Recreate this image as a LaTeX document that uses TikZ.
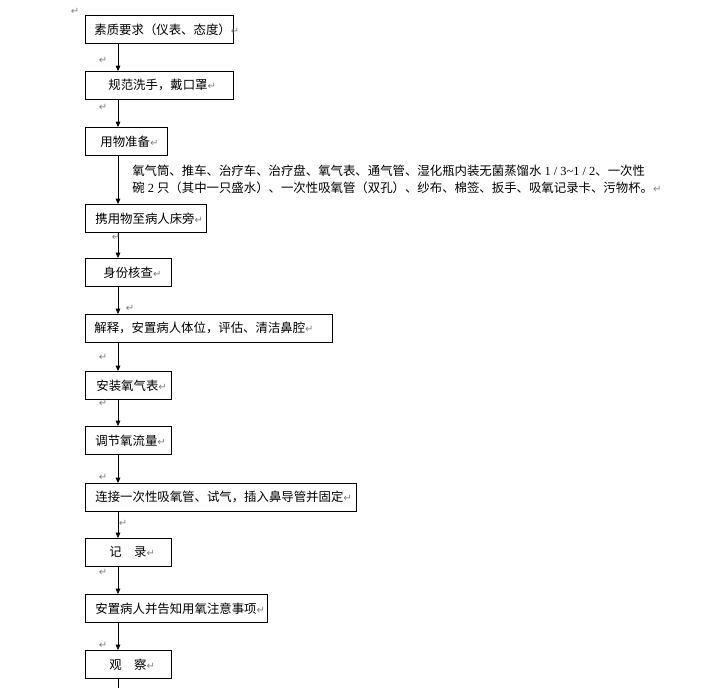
\documentclass[tikz,border=0pt]{standalone}
\usepackage{fontspec}
\setmainfont{Liberation Serif}
\newfontfamily\cjk{Noto Sans CJK SC}
\newfontfamily\symfont{DejaVu Sans}
\usetikzlibrary{arrows.meta}
\newcommand{\ret}{{\symfont\fontsize{7.5pt}{7.5pt}\selectfont\textcolor{gray}{↵}}}

\begin{document}
\begin{tikzpicture}[x=0.75pt,y=-0.75pt,
    stepbox/.style={draw, line width=0.6pt, anchor=north west, minimum height=21pt,
        inner xsep=0pt, inner ysep=0pt, align=left, font=\cjk\fontsize{9.3pt}{11pt}\selectfont},
    desc/.style={anchor=west, inner sep=0pt, font=\fontsize{9.3pt}{11pt}\selectfont},
    flow/.style={line width=0.6pt, -{Triangle[width=3.5pt,length=4pt]}},
    retmark/.style={inner sep=0pt}]
    \useasboundingbox (0,0) rectangle (709,688);

    % Steps
    \node[stepbox, text width=111pt] (quality) at (85,15) {\hspace*{6.75pt}素质要求（仪表、态度）\ret};
    \node[stepbox, text width=111pt] (wash) at (85,71) {\hspace*{17.25pt}规范洗手，戴口罩\ret};
    \node[stepbox, text width=61.5pt] (prepare) at (85,127) {\hspace*{11.25pt}用物准备\ret};
    \node[stepbox, text width=90.75pt] (bedside) at (85,204) {\hspace*{7.5pt}携用物至病人床旁\ret};
    \node[stepbox, text width=64.5pt] (identity) at (85,258) {\hspace*{13.5pt}身份核查\ret};
    \node[stepbox, text width=185.25pt] (explain) at (85,314) {\hspace*{6.75pt}解释，安置病人体位，评估、清洁鼻腔\ret};
    \node[stepbox, text width=64.5pt] (meter) at (85,371) {\hspace*{8.25pt}安装氧气表\ret};
    \node[stepbox, text width=64.5pt] (flowrate) at (85,426) {\hspace*{7.5pt}调节氧流量\ret};
    \node[stepbox, text width=203.25pt] (connect) at (85,483) {\hspace*{7.5pt}连接一次性吸氧管、试气，插入鼻导管并固定\ret};
    \node[stepbox, text width=64.5pt] (record) at (85,538) {\hspace*{18pt}记　录\ret};
    \node[stepbox, text width=136.5pt] (settle) at (85,594) {\hspace*{7.5pt}安置病人并告知用氧注意事项\ret};
    \node[stepbox, text width=64.5pt] (observe) at (85,650) {\hspace*{18pt}观　察\ret};

    % Items list
    \node[desc] (items1) at (132,171) {{\cjk 氧气筒、推车、治疗车、治疗盘、氧气表、通气管、湿化瓶内装无菌蒸馏水} 1 / 3\textasciitilde 1 / 2{\cjk 、一次性}};
    \node[desc] (items2) at (132,188) {{\cjk 碗} 2 {\cjk 只（其中一只盛水）、一次性吸氧管（双孔）、纱布、棉签、扳手、吸氧记录卡、污物杯。}\ret};

    % Arrows
    \coordinate (spine) at (118,0);
    \coordinate (tail) at (118,688);
    \draw[flow] (quality.south -| spine) -- (wash.north -| spine);
    \draw[flow] (wash.south -| spine) -- (prepare.north -| spine);
    \draw[flow] (prepare.south -| spine) -- (bedside.north -| spine);
    \draw[flow] (bedside.south -| spine) -- (identity.north -| spine);
    \draw[flow] (identity.south -| spine) -- (explain.north -| spine);
    \draw[flow] (explain.south -| spine) -- (meter.north -| spine);
    \draw[flow] (meter.south -| spine) -- (flowrate.north -| spine);
    \draw[flow] (flowrate.south -| spine) -- (connect.north -| spine);
    \draw[flow] (connect.south -| spine) -- (record.north -| spine);
    \draw[flow] (record.south -| spine) -- (settle.north -| spine);
    \draw[flow] (settle.south -| spine) -- (observe.north -| spine);
    \draw[line width=0.6pt] (observe.south -| spine) -- (tail);

    % Paragraph marks
    \foreach \x/\y [count=\i] in {75/11, 103/60, 103/107, 116/237, 130/308, 103/357,
        103/403, 103/477, 123/523, 103/572, 103/645}
        \node[retmark] (ret\i) at (\x,\y) {\ret};
\end{tikzpicture}
\end{document}
